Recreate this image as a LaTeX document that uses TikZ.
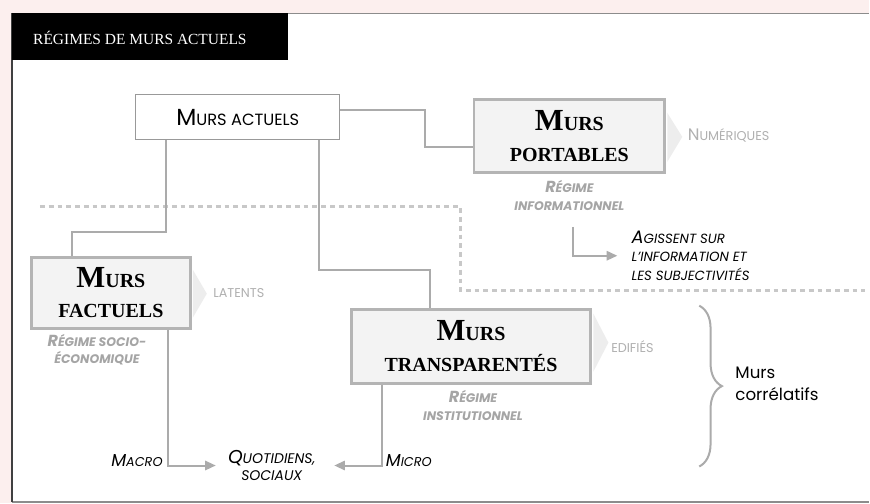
\documentclass[tikz,border=0pt]{standalone}
\usepackage{fontspec}
\setmainfont{Liberation Serif}
\newfontfamily\futu{Poppins}
\usetikzlibrary{positioning,arrows.meta,decorations.pathreplacing}

\definecolor{pinkbg}{HTML}{FCEFEE}
\definecolor{linegray}{HTML}{ABABAB}
\definecolor{boxgray}{HTML}{B4B4B4}
\definecolor{boxfill}{HTML}{F3F3F3}
\definecolor{chevgray}{HTML}{EDEDED}
\definecolor{textgray}{HTML}{B0B0B0}
\definecolor{regimegray}{HTML}{A5A5A5}
\definecolor{dotgray}{HTML}{C8C8C8}

% fake small caps: big size, small size, first letter, rest
\newcommand{\sct}[4]{{\fontsize{#1}{#1}\selectfont #3}{\fontsize{#2}{#2}\selectfont #4}}

\tikzset{
	wall_style/.style = {shape=rectangle, draw=boxgray, fill=boxfill, line width=2.2pt, inner sep=0pt, align=center, font=\fontsize{15}{23}\selectfont\bfseries},
	plain_style/.style = {shape=rectangle, draw=gray!80, fill=white, line width=0.8pt, inner sep=0pt, minimum width=153pt, minimum height=33.75pt, font=\futu},
	regime_style/.style = {text=regimegray, align=center, inner sep=0pt, font=\futu\bfseries\itshape\fontsize{9.3}{13}\selectfont},
	soft_style/.style = {text=textgray, inner sep=0pt, font=\futu\fontsize{9.6}{11}\selectfont},
	note_style/.style = {text=black, inner sep=0pt, font=\futu\itshape\fontsize{10}{14}\selectfont},
	link_style/.style = {draw=linegray, line width=1.5pt}
}

\begin{document}
\begin{tikzpicture}[x=0.75pt, y=-0.75pt,
	arrow_style/.style={link_style, -{Triangle[length=8pt, width=7pt]}},
	dash_style/.style={draw=dotgray, line width=2.2pt, dash pattern=on 3.6pt off 3pt},
	chev_style/.style={fill=chevgray},
	brace_style/.style={draw=linegray, line width=1.5pt, decorate, decoration={brace, amplitude=17pt}}
	]
	% panel
	\fill[pinkbg] (0,0) rectangle (870,504);
	\fill[white] (12,13) rectangle (870,503);
	\draw[gray!90, line width=1.4pt] (288,13.5) -- (870,13.5);
	\draw[gray!90, line width=1.4pt] (12,502.5) -- (870,502.5);
	\draw[black!75, line width=1pt] (12,13) -- (12,503);
	\fill[black] (12,13) rectangle (288,60);
	\node[anchor=base west, text=white, inner sep=0pt, font=\fontsize{11.6}{14}\selectfont] (title) at (33,45) {RÉGIMES DE MURS ACTUELS};

	% separation line
	\draw[dash_style] (40,207) -- (461,207) -- (461,291) -- (866,291);

	% all the nodes
	\node[plain_style] (actuels) at (238,117.5) {\sct{17.5}{12.2}{M}{URS ACTUELS}};
	\node[wall_style, minimum width=143.25pt, minimum height=54.75pt] (portables) at (570,136) {\sct{23}{15}{M}{URS}\\PORTABLES};
	\node[wall_style, minimum width=119.25pt, minimum height=53.25pt] (factuels) at (111,293) {\sct{23}{15}{M}{URS}\\FACTUELS};
	\node[wall_style, minimum width=180pt, minimum height=55.5pt] (transp) at (471.5,346.5) {\sct{23}{15}{M}{URS}\\TRANSPARENTÉS};

	\fill[chev_style] (668,113) -- (683,137) -- (668,162) -- cycle;
	\fill[chev_style] (193,270) -- (207,294) -- (193,318) -- cycle;
	\fill[chev_style] (594,314) -- (609,343) -- (594,372) -- cycle;

	\node[soft_style, anchor=west, right=16pt of portables] (numeriques) {\sct{12.5}{9.6}{N}{UMÉRIQUES}};
	\node[soft_style, anchor=west, right=16pt of factuels] (latents) {LATENTS};
	\node[soft_style, anchor=west, right=14pt of transp] (edifies) {EDIFIÉS};

	\node[regime_style, below=5pt of portables] (reg_info) {\sct{12}{9.3}{R}{ÉGIME}\\INFORMATIONNEL};
	\node[regime_style, below=3.5pt of factuels, xshift=-10.5pt] (reg_socio) {\sct{12}{9.3}{R}{ÉGIME SOCIO-}\\ÉCONOMIQUE};
	\node[regime_style, below=4.5pt of transp, xshift=1.5pt] (reg_inst) {\sct{12}{9.3}{R}{ÉGIME}\\INSTITUTIONNEL};

	\node[note_style, align=left, anchor=west] (agissent) at (632,256) {\sct{13.5}{10}{A}{GISSENT SUR}\\L’INFORMATION ET\\LES SUBJECTIVITÉS};
	\node[note_style, align=center, font=\futu\itshape\fontsize{10.5}{12.5}\selectfont] (quot) at (272,466) {\sct{14}{10.5}{Q}{UOTIDIENS,}\\SOCIAUX};
	\node[note_style, anchor=east] (macro) at (163,461) {\sct{13}{9.6}{M}{ACRO}};
	\node[note_style, anchor=west] (micro) at (386,461) {\sct{13}{9.6}{M}{ICRO}};
	\node[align=left, anchor=west, inner sep=0pt, font=\futu\fontsize{12.5}{16.5}\selectfont] (correlatifs) at (736,384) {Murs\\corrélatifs};

	\coordinate (info_out) at (574,227);

	\draw[link_style] (actuels.east |- 0,110) -| (425,147) -- (portables.west |- 0,147);
	\draw[link_style] (166,0 |- actuels.south) |- (72,232) -- (72,0 |- factuels.north);
	\draw[link_style] (319,0 |- actuels.south) |- (430,270) -- (430,0 |- transp.north);
	\draw[arrow_style, shorten >=10.5pt] (info_out) |- (agissent.west);
	\draw[arrow_style, shorten >=9pt] (168,0 |- factuels.south) |- (quot.west);
	\draw[arrow_style, shorten >=14pt] (382,0 |- transp.south) |- (quot.east);

	\draw[brace_style] (700,306) -- (700,467);
\end{tikzpicture}
\end{document}
